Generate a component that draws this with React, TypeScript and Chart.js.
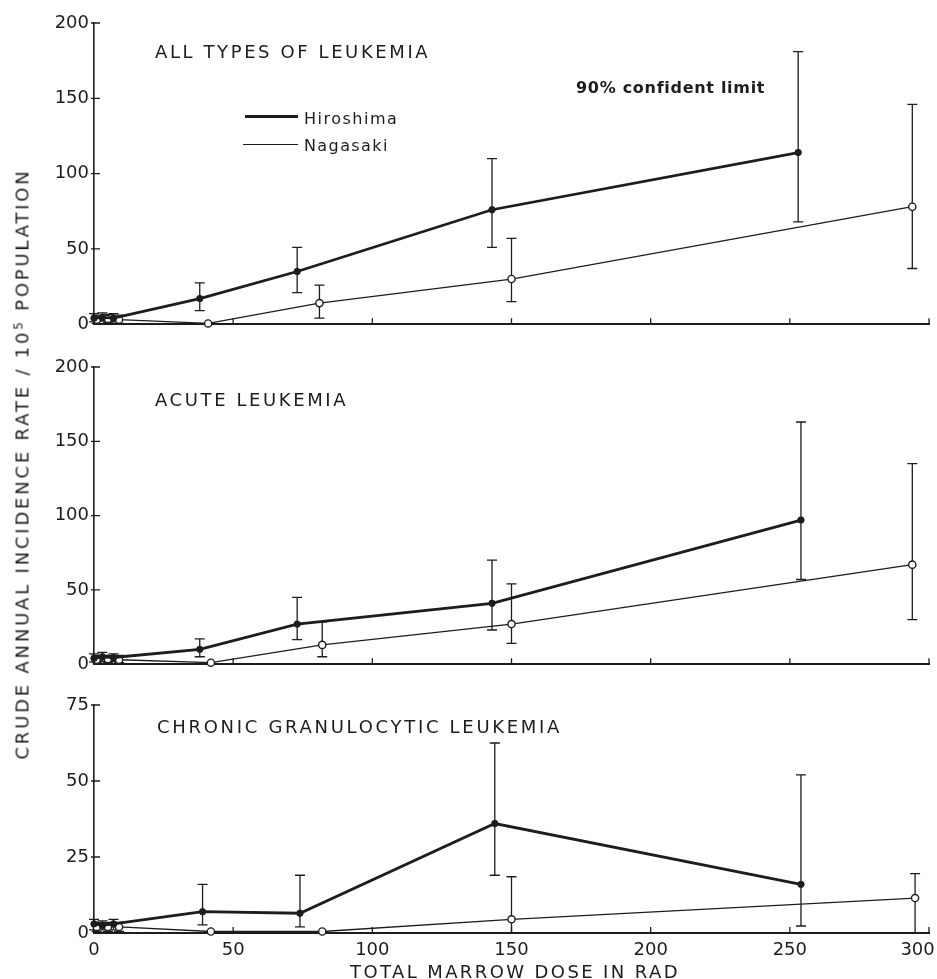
import React, { useEffect, useRef } from "react";
import { Chart, registerables } from "chart.js";
Chart.register(...registerables);

const INK = "#1d1d1d";
const FONT = '"DejaVu Sans", "Liberation Sans", Arial, sans-serif';

const doseTicks = [0, 50, 100, 150, 200, 250, 300];
const rateTicks200 = [0, 50, 100, 150, 200];
const rateTicks75 = [0, 25, 50, 75];

// Panel 1 – all types of leukemia
const allHiroDose = [0, 3, 7, 38, 73, 143, 253];
const allHiroRate = [4, 4.5, 4, 17, 35, 76, 114];
const allHiroLow = [1.5, 2, 1.5, 9, 21, 51, 68];
const allHiroHigh = [7, 7.5, 7, 27.5, 51, 110, 181];
const allNagaDose = [1, 5, 9, 41, 81, 150, 294];
const allNagaRate = [3, 3.5, 3, 0.5, 14, 30, 78];
const allNagaLow = [0.5, 1, 0.5, null, 4, 15, 37];
const allNagaHigh = [6, 6.5, 6, null, 26, 57, 146];

// Panel 2 – acute leukemia
const acuHiroDose = [0, 3, 7, 38, 73, 143, 254];
const acuHiroRate = [4, 5, 4.5, 10, 27, 41, 97];
const acuHiroLow = [1.5, 2, 2, 5, 16.5, 23, 57];
const acuHiroHigh = [7, 8, 7, 17, 45, 70, 163];
const acuNagaDose = [1, 5, 9, 42, 82, 150, 294];
const acuNagaRate = [3, 3.5, 3, 1, 13, 27, 67];
const acuNagaLow = [1, 1, 1, null, 5, 14, 30];
const acuNagaHigh = [6, 6, 6, null, 28.5, 54, 135];

// Panel 3 – chronic granulocytic leukemia
const cglHiroDose = [0, 3, 7, 39, 74, 144, 254];
const cglHiroRate = [3, 2.5, 3, 7, 6.5, 36, 16];
const cglHiroLow = [1, 1, 1, 2.7, 2, 19, 2.3];
const cglHiroHigh = [4.5, 4, 4.5, 16, 19, 62.5, 52];
const cglNagaDose = [1, 5, 9, 42, 82, 150, 295];
const cglNagaRate = [2, 2, 2, 0.5, 0.5, 4.5, 11.5];
const cglNagaLow = [0.5, 0.5, 0.5, null, null, 0, 0];
const cglNagaHigh = [3.5, 3.5, 3.5, null, null, 18.5, 19.5];

const errorBars = {
  id: "errorBars",
  beforeDatasetsDraw(chart: any) {
    const { ctx } = chart;
    const xs = chart.scales.x;
    const ys = chart.scales.y;
    chart.data.datasets.forEach((ds: any) => {
      const lo = ds.errLow;
      const hi = ds.errHigh;
      if (!lo) return;
      ctx.save();
      ctx.strokeStyle = INK;
      ctx.lineWidth = 1.3;
      ds.data.forEach((pt: any, i: number) => {
        if (lo[i] == null || hi[i] == null) return;
        const px = xs.getPixelForValue(pt.x);
        const y1 = ys.getPixelForValue(lo[i]);
        const y2 = ys.getPixelForValue(hi[i]);
        ctx.beginPath();
        ctx.moveTo(px, y1);
        ctx.lineTo(px, y2);
        ctx.moveTo(px - 5, y1);
        ctx.lineTo(px + 5, y1);
        ctx.moveTo(px - 5, y2);
        ctx.lineTo(px + 5, y2);
        ctx.stroke();
      });
      ctx.restore();
    });
  },
};

const innerTicks = {
  id: "innerTicks",
  afterDraw(chart: any) {
    const { ctx, chartArea } = chart;
    const xs = chart.scales.x;
    const ys = chart.scales.y;
    ctx.save();
    ctx.strokeStyle = INK;
    ctx.lineWidth = 1.3;
    ctx.beginPath();
    xs.ticks.forEach((t: any) => {
      if (t.value === 0) return;
      const px = xs.getPixelForValue(t.value);
      ctx.moveTo(px, chartArea.bottom);
      ctx.lineTo(px, chartArea.bottom - 6);
    });
    ys.ticks.forEach((t: any) => {
      if (t.value === 0) return;
      const py = ys.getPixelForValue(t.value);
      ctx.moveTo(chartArea.left - 3, py);
      ctx.lineTo(chartArea.left + 6, py);
    });
    ctx.stroke();
    ctx.restore();
  },
};

type Series = { dose: number[]; rate: number[]; low: (number | null)[]; high: (number | null)[] };

function Panel(props: {
  top: number;
  height: number;
  areaTop: number;
  xHeight: number;
  yMax: number;
  yTicks: number[];
  showX: boolean;
  hiro: Series;
  naga: Series;
}) {
  const ref = useRef<HTMLCanvasElement>(null);
  useEffect(() => {
    const { hiro, naga } = props;
    const chart = new Chart(ref.current as HTMLCanvasElement, {
      type: "line",
      data: {
        datasets: [
          {
            label: "Hiroshima",
            data: hiro.dose.map((x, i) => ({ x, y: hiro.rate[i] })),
            borderColor: INK,
            borderWidth: 2.8,
            pointRadius: 3.2,
            pointBackgroundColor: INK,
            pointBorderColor: INK,
            pointBorderWidth: 1,
            tension: 0,
            clip: false,
            errLow: hiro.low,
            errHigh: hiro.high,
          } as any,
          {
            label: "Nagasaki",
            data: naga.dose.map((x, i) => ({ x, y: naga.rate[i] })),
            borderColor: INK,
            borderWidth: 1.3,
            pointRadius: 3.6,
            pointBackgroundColor: "#ffffff",
            pointBorderColor: INK,
            pointBorderWidth: 1.4,
            tension: 0,
            clip: false,
            errLow: naga.low,
            errHigh: naga.high,
          } as any,
        ],
      },
      options: {
        animation: false,
        responsive: false,
        maintainAspectRatio: false,
        devicePixelRatio: 1,
        layout: { padding: { top: props.areaTop, right: 8, left: 0, bottom: 0 } },
        plugins: { legend: { display: false }, tooltip: { enabled: false } },
        scales: {
          x: {
            type: "linear",
            min: 0,
            max: 300,
            afterBuildTicks: (s: any) => {
              s.ticks = doseTicks.map((v) => ({ value: v }));
            },
            afterFit: (s: any) => {
              s.height = props.xHeight;
              s.paddingLeft = 0;
              s.paddingRight = 0;
            },
            ticks: {
              display: props.showX,
              color: INK,
              font: { family: FONT, size: 18 },
              padding: 7,
              maxRotation: 0,
              autoSkip: false,
              callback: (v: any) => (v === 300 ? "300    " : String(v)),
            },
            grid: { display: false, drawTicks: false },
            border: { display: true, color: INK, width: 2 },
          },
          y: {
            type: "linear",
            min: 0,
            max: props.yMax,
            afterBuildTicks: (s: any) => {
              s.ticks = props.yTicks.map((v) => ({ value: v }));
            },
            afterFit: (s: any) => {
              s.width = 64;
            },
            ticks: {
              color: INK,
              font: { family: FONT, size: 18 },
              padding: 5,
              autoSkip: false,
            },
            grid: { display: false, drawTicks: false },
            border: { display: true, color: INK, width: 1.6 },
          },
        },
      } as any,
      plugins: [errorBars, innerTicks],
    });
    return () => chart.destroy();
  }, []);
  return (
    <canvas
      ref={ref}
      width={907}
      height={props.height}
      style={{ position: "absolute", left: 30, top: props.top, width: 907, height: props.height }}
    />
  );
}

function Label(props: { x: number; cy: number; size: number; spacing: number; children: any; weight?: number }) {
  return (
    <div
      style={{
        position: "absolute",
        left: props.x,
        top: props.cy - 0.48 * props.size,
        fontFamily: FONT,
        fontSize: props.size,
        lineHeight: 1,
        letterSpacing: props.spacing,
        whiteSpace: "nowrap",
        color: INK,
        fontWeight: props.weight || 400,
      }}
    >
      {props.children}
    </div>
  );
}

export default function App() {
  useEffect(() => {
    document.body.style.margin = "0";
  }, []);
  return (
    <div style={{ position: "relative", width: 937, height: 979, background: "#fff", overflow: "hidden" }}>
      <Panel
        top={0}
        height={340}
        areaTop={23}
        xHeight={12}
        yMax={200}
        yTicks={rateTicks200}
        showX={false}
        hiro={{ dose: allHiroDose, rate: allHiroRate, low: allHiroLow, high: allHiroHigh }}
        naga={{ dose: allNagaDose, rate: allNagaRate, low: allNagaLow, high: allNagaHigh }}
      />
      <Panel
        top={345}
        height={335}
        areaTop={22}
        xHeight={12}
        yMax={200}
        yTicks={rateTicks200}
        showX={false}
        hiro={{ dose: acuHiroDose, rate: acuHiroRate, low: acuHiroLow, high: acuHiroHigh }}
        naga={{ dose: acuNagaDose, rate: acuNagaRate, low: acuNagaLow, high: acuNagaHigh }}
      />
      <Panel
        top={682}
        height={297}
        areaTop={23}
        xHeight={46}
        yMax={75}
        yTicks={rateTicks75}
        showX={true}
        hiro={{ dose: cglHiroDose, rate: cglHiroRate, low: cglHiroLow, high: cglHiroHigh }}
        naga={{ dose: cglNagaDose, rate: cglNagaRate, low: cglNagaLow, high: cglNagaHigh }}
      />

      <Label x={155} cy={52} size={18} spacing={2.6}>ALL TYPES OF LEUKEMIA</Label>
      <Label x={576} cy={88} size={16} spacing={0.7} weight={600}>90% confident limit</Label>
      <div style={{ position: "absolute", left: 245, top: 115, width: 53, height: 3, background: INK }} />
      <Label x={304} cy={119} size={16} spacing={1.5}>Hiroshima</Label>
      <div style={{ position: "absolute", left: 243, top: 144, width: 55, height: 1.4, background: INK }} />
      <Label x={304} cy={146} size={16} spacing={1.4}>Nagasaki</Label>

      <Label x={155} cy={400} size={18} spacing={2.6}>ACUTE LEUKEMIA</Label>
      <Label x={157} cy={727} size={18} spacing={2.7}>CHRONIC GRANULOCYTIC LEUKEMIA</Label>

      <Label x={350} cy={972} size={18} spacing={2.4}>TOTAL MARROW DOSE IN RAD</Label>

      <div
        style={{
          position: "absolute",
          left: 22,
          top: 464,
          transform: "translate(-50%, -50%) rotate(-90deg)",
          fontFamily: FONT,
          fontSize: 18,
          lineHeight: 1,
          letterSpacing: 2.8,
          whiteSpace: "nowrap",
          color: INK,
        }}
      >
        CRUDE ANNUAL INCIDENCE RATE / 10<sup style={{ fontSize: 12, verticalAlign: "6px" }}>5</sup> POPULATION
      </div>
    </div>
  );
}
